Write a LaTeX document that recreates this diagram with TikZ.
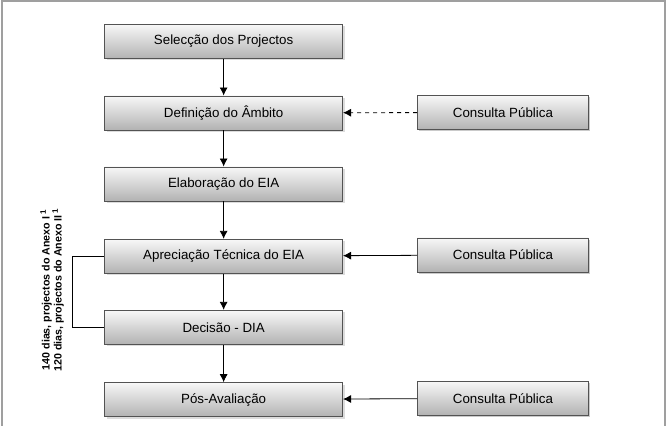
\documentclass[tikz,border=0pt]{standalone}
\usepackage{fontspec}
\setmainfont{Liberation Sans}
\usetikzlibrary{matrix,positioning,calc,arrows.meta,shadows}

\tikzset{
	etapa/.style={
		draw=gray!65!black,
		top color=gray!6,
		bottom color=gray!60,
		minimum width=178.5pt,
		minimum height=25.5pt,
		inner sep=2pt,
		drop shadow={shadow xshift=1.5pt,shadow yshift=-1.5pt,fill=gray!55},
	},
	consulta/.style={etapa,minimum width=128.25pt},
}

\begin{document}
\begin{tikzpicture}[>={Latex[length=6pt,width=6pt]},font=\fontsize{10}{12}\selectfont,line width=0.6pt]
		\useasboundingbox (0,0) rectangle (500.25pt,-318.75pt);
		\draw[gray!75,line width=1.5pt] (1.5pt,-1pt) rectangle (498.9pt,-330pt);
		\matrix (m) [
			matrix of nodes,
			nodes={etapa},
			row sep=27.15pt,
			column sep=55.5pt,
		] at (259.9pt,-165.4pt)
		{
			Selecção dos Projectos \\
			Definição do Âmbito & \node[consulta] (cp1) {Consulta Pública}; \\
			Elaboração do EIA \\
			Apreciação Técnica do EIA & \node[consulta] (cp2) {Consulta Pública}; \\
			Decisão - DIA \\
			Pós-Avaliação & \node[consulta] (cp3) {Consulta Pública}; \\
		};
		\path[->]
			(m-1-1) edge (m-2-1)
			(m-2-1) edge (m-3-1)
			(m-3-1) edge (m-4-1)
			(m-4-1) edge (m-5-1)
			(m-5-1) edge (m-6-1)
			(cp1) edge[dashed] (m-2-1)
			(cp2) edge (m-4-1)
			(cp3) edge (m-6-1)
		;
		\draw (m-4-1.west) -- ++(-24pt,0) |- (m-5-1.west);
		\node[rotate=90,align=center,font=\fontsize{8}{9}\selectfont\bfseries] (prazo) at (39pt,-217.5pt)
			{140 dias, projectos do Anexo I\,\textsuperscript{1}\\120 dias, projectos do Anexo II\,\textsuperscript{1}};
	\end{tikzpicture}
\end{document}
